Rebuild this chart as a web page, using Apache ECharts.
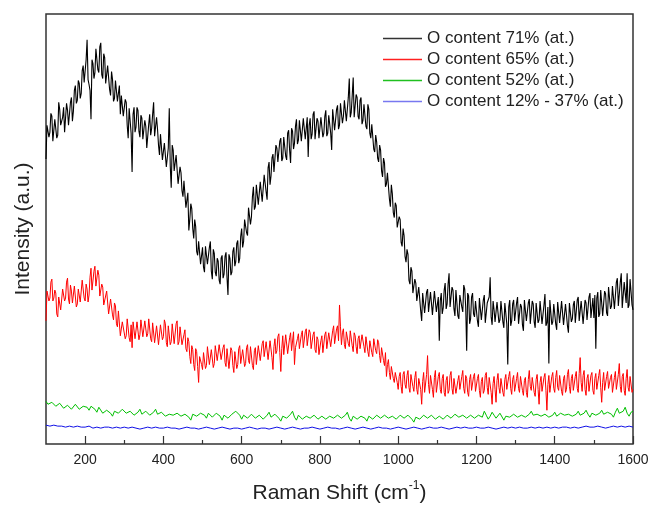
<!DOCTYPE html>
<html><head><meta charset="utf-8">
<script src="https://cdn.jsdelivr.net/npm/echarts@6/dist/echarts.min.js"></script>
<style>html,body{margin:0;padding:0;background:#fff}#chart{width:653px;height:511px}</style>
</head><body><div id="chart"></div>
<script>
const seriesNames = ['O content 71% (at.)', 'O content 65% (at.)', 'O content 52% (at.)', 'O content 12% - 37% (at.)'];
const shiftStart = 100;
const stepO71 = 2.5, stepO65 = 2.5, stepO52 = 5, stepO12 = 10;
const majorTicks = [200, 400, 600, 800, 1000, 1200, 1400, 1600];
const minorTicks = [300, 500, 700, 900, 1100, 1300, 1500];

// O content 71% (every 2.5 cm-1 from 100)
const o71 = [
287,321,323,309,314,333,330,305,307,327,327,308,311,344,337,321,322,329,339,314,
315,343,336,321,319,344,349,325,335,356,361,343,346,366,363,348,353,376,381,364,
366,387,407,367,362,356,327,387,383,368,374,398,399,377,374,400,404,372,368,393,
389,363,364,381,380,357,351,375,367,345,348,366,368,345,347,361,332,351,351,330,
329,347,344,321,308,338,337,313,274,332,339,314,319,339,336,315,309,331,328,307,
307,326,320,298,299,322,332,311,318,332,344,310,309,329,317,301,291,312,310,286,
286,303,304,279,277,298,338,280,258,301,296,275,277,291,291,262,262,279,273,255,
249,265,267,238,237,253,215,226,242,237,217,207,226,219,194,190,204,206,181,182,
198,178,173,199,199,181,183,198,204,174,166,196,192,173,169,187,184,165,161,187,
190,167,171,189,193,168,150,191,187,170,173,194,198,179,184,202,205,182,187,209,
217,198,204,226,228,213,210,238,237,221,229,249,259,236,239,261,259,241,243,264,
265,244,243,271,270,254,246,278,284,261,270,288,292,274,274,301,298,284,285,305,
308,285,288,309,308,290,286,313,316,296,283,318,315,297,303,320,327,302,306,326,
327,305,303,328,330,307,308,329,289,321,328,307,312,332,335,307,308,328,325,308,
306,329,328,309,313,330,336,310,313,331,330,313,296,337,335,316,318,337,341,317,
321,343,345,323,330,346,348,325,325,349,368,329,334,351,369,329,331,352,349,330,
327,346,349,322,326,342,342,320,317,342,337,313,308,322,322,297,294,311,304,288,
284,301,296,275,269,288,283,259,262,273,272,247,239,261,252,233,228,243,240,218,
216,229,226,203,199,217,210,189,183,196,191,165,161,178,174,152,150,166,162,144,
142,158,160,134,124,152,150,132,134,153,156,133,133,153,152,130,131,154,152,133,
131,148,104,144,152,131,137,155,162,136,141,161,172,138,137,158,155,136,129,155,
153,129,126,150,149,138,133,160,156,138,94,152,149,121,126,148,152,131,128,144,
144,124,118,147,146,125,124,145,150,122,121,142,141,148,168,128,120,144,135,123,
121,143,142,122,125,144,146,123,117,142,141,121,80,138,145,119,124,141,145,124,
124,142,148,121,120,141,138,120,114,145,143,124,126,142,146,121,122,144,141,123,
117,142,141,122,125,144,146,121,120,140,151,119,122,138,81,145,143,120,123,141,
140,121,115,143,143,122,124,144,145,120,119,141,139,119,112,142,142,123,126,140,
144,122,122,145,148,124,125,144,144,121,120,145,142,125,124,148,152,127,127,147,
127,150,96,147,153,128,131,155,157,129,130,154,151,132,129,158,157,136,139,159,
159,136,135,163,167,139,141,163,172,137,136,163,161,142,172,137,140,166,168,140,
135
];

// O content 65% (every 2.5 cm-1 from 100)
const o65 = [
124,154,156,144,147,163,166,144,147,155,152,131,128,148,147,135,135,156,158,144,
147,163,167,146,141,160,154,142,141,159,160,138,141,156,158,143,144,165,165,147,
144,161,156,143,150,168,177,155,157,174,179,159,158,175,170,149,148,161,158,140,
141,138,154,152,131,132,146,147,130,125,142,139,121,118,134,132,109,111,123,125,
123,106,109,126,125,107,103,120,97,123,125,106,108,123,125,105,110,125,124,108,
107,124,125,108,111,126,126,106,103,122,121,102,101,119,117,100,101,120,120,105,
108,125,121,102,98,119,118,100,103,121,122,101,102,121,124,100,103,118,118,100,
99,110,115,96,93,107,103,88,81,99,95,80,74,96,93,78,62,88,90,80,
75,92,94,76,79,98,97,80,78,95,97,77,81,99,101,84,83,100,101,85,
84,97,100,82,78,96,94,76,78,97,94,79,72,93,94,76,80,96,99,81,
79,95,96,78,81,97,100,84,81,98,96,79,75,94,97,80,82,99,101,84,
85,101,104,88,86,103,102,85,86,104,104,87,75,98,106,91,94,108,111,92,
73,96,109,90,92,110,108,91,90,107,112,94,96,113,80,97,95,106,111,96,
96,110,114,97,96,113,116,99,98,115,112,96,94,110,113,95,92,108,105,90,
90,104,109,92,93,110,113,96,94,112,113,98,97,114,119,101,102,116,119,104,
140,118,100,112,116,100,96,113,115,101,98,114,116,99,93,112,109,98,91,106,
109,96,94,110,112,98,92,108,107,93,88,104,105,92,88,106,107,94,91,105,
102,89,82,97,99,84,79,92,68,80,85,72,65,78,80,66,62,72,74,62,
55,68,72,58,51,70,73,60,56,69,74,57,52,70,71,58,53,67,73,55,
50,66,68,55,40,63,72,52,54,70,89,60,51,69,71,55,47,67,74,52,
53,68,72,55,51,66,70,52,48,64,68,51,54,69,73,56,50,66,67,51,
49,64,69,55,53,68,74,56,51,69,66,52,48,65,70,54,52,68,71,53,
52,66,70,54,47,63,67,51,54,69,72,57,50,67,69,52,40,61,68,55,
42,64,71,57,51,66,68,52,48,65,70,55,53,68,73,56,50,65,69,53,
51,66,72,56,52,68,70,54,49,64,67,52,47,65,74,58,54,67,69,52,
48,65,70,55,40,62,68,53,51,67,71,54,34,60,69,52,53,68,72,56,
52,67,74,57,54,69,71,53,49,66,69,52,55,70,75,58,51,66,70,54,
54,68,73,56,52,71,87,62,53,69,74,55,49,66,70,53,55,69,72,54,
50,66,71,55,54,69,75,57,42,62,72,54,53,68,73,56,55,67,70,52,
51,67,73,55,53,70,81,58,52,68,71,54,49,66,75,57,53,68,70,52,
55
];

// O content 52% (every 5 cm-1 from 100)
const o52 = [
43,40,38,42,43,38,36,41,40,36,34,39,40,35,36,40,41,35,33,38,
40,37,34,38,40,35,32,37,36,31,30,34,36,31,28,33,34,31,30,35,
35,31,29,33,33,29,27,32,35,30,29,33,33,29,27,32,35,30,28,32,
32,28,26,30,32,29,27,31,33,28,26,30,31,27,24,30,32,28,27,31,
33,29,26,31,30,27,26,31,33,28,24,29,31,26,25,30,30,33,34,29,
25,29,31,26,24,30,29,26,25,29,31,25,24,29,32,27,25,30,30,26,
23,28,30,26,25,30,33,27,24,29,29,25,23,28,30,26,25,29,31,25,
24,28,29,25,23,28,30,26,25,29,31,26,24,29,32,26,23,28,29,25,
25,28,30,26,23,28,29,25,24,29,31,26,25,29,30,26,24,28,29,25,
24,29,31,26,25,29,30,25,22,27,29,25,24,29,31,26,25,29,30,25,
23,28,29,25,24,29,30,26,26,30,32,27,25,29,30,26,24,29,31,26,
25,29,30,27,33,29,25,28,32,29,26,27,31,29,24,28,30,27,26,30,
31,27,25,29,31,27,25,30,33,29,27,30,32,28,26,30,31,27,25,29,
32,28,27,31,33,29,27,30,32,28,26,30,33,29,28,31,34,30,27,31,
32,29,27,31,34,30,29,32,34,30,27,32,36,31,29,33,37,31,28,32,
33
];

// O content 12% - 37% (every 10 cm-1 from 100)
const o12to37 = [
19,18,19,18,18,17,18,17,18,17,
17,18,16,17,16,17,17,16,17,16,
17,16,17,16,15,16,17,16,17,16,
16,17,16,16,15,16,17,16,16,15,
16,17,16,15,16,17,16,15,16,16,
15,16,17,16,15,16,16,15,16,17,
16,15,16,17,16,15,16,16,17,16,
15,16,17,16,16,15,16,17,16,15,
16,17,16,15,16,17,16,16,15,16,
17,16,15,16,17,16,15,16,17,16,
16,17,16,15,16,17,16,17,16,16,
17,16,16,17,16,15,16,17,16,17,
16,17,16,16,17,16,17,16,17,16,
17,16,17,17,16,17,16,17,18,17,
17,18,17,16,17,18,17,18,17,18,
17
];

const seriesColors = ['#000000', '#ff0000', '#00c000', '#1010e6'];
const legendColors = ['#333333', '#ff2020', '#20c020', '#7878f0'];
const seriesData = [[o71, stepO71], [o65, stepO65], [o52, stepO52], [o12to37, stepO12]];

function toPairs(vals, step) { return vals.map((v, i) => [shiftStart + i * step, v]); }

const FONT = 'Liberation Sans, Arial, Helvetica, sans-serif';
const chart = echarts.init(document.getElementById('chart'), null, {renderer: 'canvas'});
chart.setOption({
  animation: false,
  backgroundColor: '#ffffff',
  grid: {left: 46, top: 14, right: 20, bottom: 64, show: true, borderColor: '#333', borderWidth: 1.5, backgroundColor: 'transparent'},
  legend: {
    orient: 'vertical', left: 383, top: 30, padding: 0, itemWidth: 39, itemHeight: 1.5, itemGap: 4,
    icon: 'rect',
    textStyle: {fontSize: 17, color: '#222', fontFamily: FONT},
    data: seriesNames.map((n, k) => ({name: n, itemStyle: {color: legendColors[k]}}))
  },
  xAxis: [
    {
      type: 'value', min: 100, max: 1600, position: 'bottom',
      axisLine: {show: false}, splitLine: {show: false},
      axisTick: {show: true, inside: true, length: 8, customValues: majorTicks, lineStyle: {color: '#333', width: 1.2}},
      axisLabel: {customValues: majorTicks, margin: 9, fontSize: 14, color: '#222', fontFamily: FONT, formatter: v => String(v)},
      name: 'Raman Shift (cm{sup|-1})', nameLocation: 'middle', nameGap: 36,
      nameTextStyle: {fontSize: 21, color: '#222', fontFamily: FONT, lineHeight: 26,
        rich: {sup: {fontSize: 12, lineHeight: 12, verticalAlign: 'top', color: '#222', fontFamily: FONT}}}
    },
    {
      type: 'value', min: 100, max: 1600, position: 'bottom',
      axisLine: {show: false}, splitLine: {show: false},
      axisTick: {show: true, inside: true, length: 4, customValues: minorTicks, lineStyle: {color: '#333', width: 1.2}},
      axisLabel: {show: false}
    }
  ],
  yAxis: {
    type: 'value', min: 0, max: 433,
    axisLine: {show: false}, axisTick: {show: false}, axisLabel: {show: false}, splitLine: {show: false},
    name: 'Intensity (a.u.)', nameLocation: 'middle', nameGap: 12,
    nameTextStyle: {fontSize: 21, color: '#222', fontFamily: FONT}
  },
  series: seriesNames.map((name, k) => ({
    name: name, type: 'line', xAxisIndex: 0, yAxisIndex: 0,
    data: toPairs(seriesData[k][0], seriesData[k][1]),
    symbol: 'none', showSymbol: false,
    color: seriesColors[k],
    lineStyle: {color: seriesColors[k], width: k === 0 ? 1.1 : 1},
    emphasis: {disabled: true},
    z: 10 - k
  }))
});
</script>
</body></html>
